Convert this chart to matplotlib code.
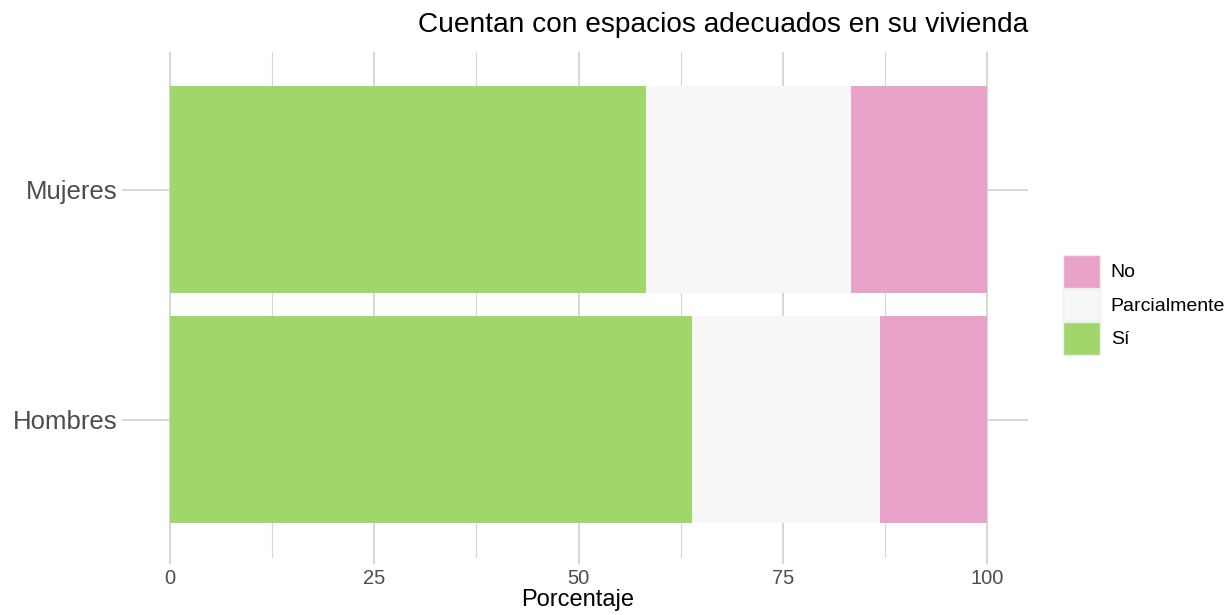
import matplotlib.pyplot as plt
import numpy as np

grupos = ["Hombres", "Mujeres"]
si = [63.9, 58.3]
parcial = [23.0, 25.1]
no = [13.1, 16.6]
xticks = [0, 25, 50, 75, 100]

plt.rcParams['font.family'] = ['Liberation Sans', 'DejaVu Sans']

fig = plt.figure(figsize=(12.28, 6.15), dpi=100)
ax = fig.add_axes([129 / 1228, 1 - 557.5 / 615, 899 / 1228, 506 / 615])

y = np.arange(len(grupos))
left = np.zeros(len(grupos))
series = [(si, "Sí", "#A1D76A"), (parcial, "Parcialmente", "#F7F7F7"), (no, "No", "#E9A3C9")]
for vals, lab, col in series:
    ax.barh(y, vals, left=left, height=0.9, color=col, label=lab, zorder=2)
    left += np.array(vals)

ax.set_xlim(-5, 105)
ax.set_ylim(-0.6, 1.6)
ax.set_xticks(xticks)
ax.set_xticks([12.5, 37.5, 62.5, 87.5], minor=True)
ax.set_yticks(y)
ax.set_yticklabels(grupos)
ax.set_axisbelow(True)
ax.grid(which='major', color='#d6d6d6', lw=1.4)
ax.grid(which='minor', axis='x', color='#d6d6d6', lw=0.8)
for s in ax.spines.values():
    s.set_visible(False)
ax.tick_params(axis='x', which='major', length=4, width=1.4, color='#d6d6d6',
               labelsize=14.5, labelcolor='#4d4d4d', pad=4)
ax.tick_params(axis='x', which='minor', length=0)
ax.tick_params(axis='y', length=5, width=1.4, color='#d6d6d6',
               labelsize=18.5, labelcolor='#4d4d4d', pad=3)

fig.text(1028 / 1228, 1 - 25 / 615, "Cuentan con espacios adecuados en su vivienda",
         ha='right', va='center', fontsize=20.2)
fig.text(578 / 1228, 1 - 600 / 615, "Porcentaje", ha='center', va='center', fontsize=17)

h, l = ax.get_legend_handles_labels()
leg = fig.legend(h[::-1], l[::-1], loc='upper left',
                 bbox_to_anchor=(1063 / 1228, 1 - 255 / 615), frameon=False,
                 fontsize=14, handlelength=1.9, handleheight=2.2,
                 labelspacing=0.05, handletextpad=0.55, borderpad=0, borderaxespad=0)
for p in leg.get_patches():
    p.set_edgecolor('#efefef')

fig.savefig("out.png", dpi=100)
